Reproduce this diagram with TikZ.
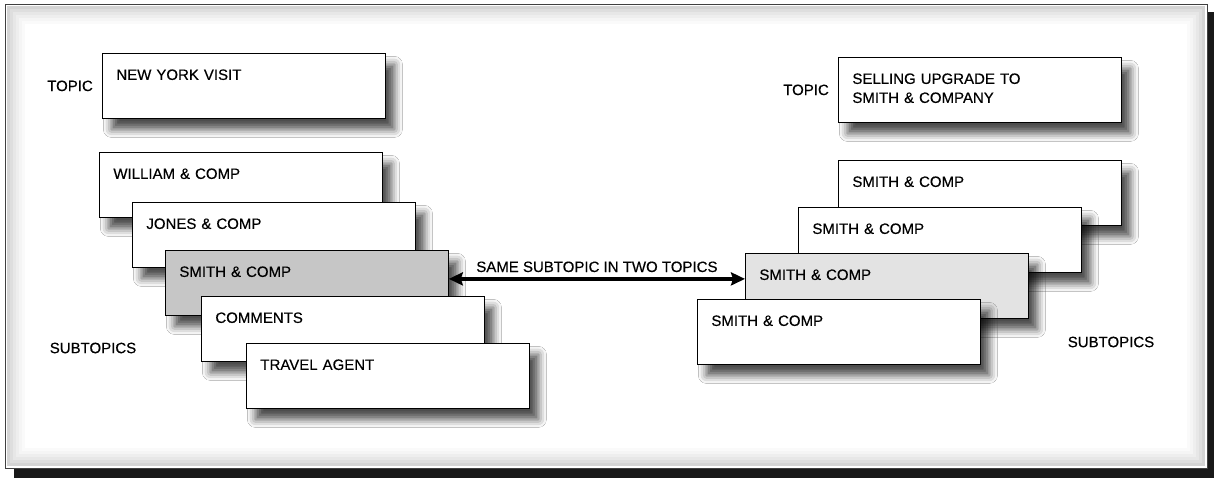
\documentclass[tikz,border=0pt]{standalone}
\usepackage{fontspec}
\setmainfont{Liberation Sans}
\newfontfamily\cardfont[FakeBold=0.4]{Liberation Sans}
\usetikzlibrary{positioning,arrows.meta,shadows.blur}

\tikzset{
  card/.style={draw, line width=0.8pt, fill=white, anchor=north west, text width=255pt, align=left,
    inner xsep=14pt, inner ysep=0pt, text height=26.5pt, text depth=38.5pt,
    blur shadow={shadow xshift=9pt, shadow yshift=-11pt, shadow blur radius=8pt, shadow opacity=70}},
  tag/.style={inner sep=0pt}
}

\begin{document}
\begin{tikzpicture}[x=1pt,y=-1pt,font=\cardfont\fontsize{15}{19}\selectfont]
    \useasboundingbox (0,0) rectangle (1214,478);
    % frame
    \fill[black!90] (14,12) rectangle (1214,478);
    \filldraw[fill=white,draw=black!75] (5,4) rectangle (1207,468);
    \foreach \d/\g in {2/34,5/26,8/19,11/13,14/8,17/4}
      \draw[gray!\g,line width=3pt] (5+\d+1.5,4+\d+1.5) rectangle (1207-\d-1.5,468-\d-1.5);
    % left topic
    \node[card] (nyvisit) at (102,53) {NEW YORK VISIT};
    \node[tag,left=9pt of nyvisit] (topicL) {TOPIC};
    \node[card] (william) at (99,152) {WILLIAM \& COMP};
    \node[card] (jones) at (132,202) {JONES \& COMP};
    \node[card,fill=gray!45] (smithL) at (165,250) {SMITH \& COMP};
    \node[card] (comments) at (201,296) {COMMENTS};
    \node[card] (travel) at (246,343) {TRAVEL AGENT};
    \node[tag] (subL) at (93,348) {SUBTOPICS};
    % right topic
    \node[card] (upgrade) at (838,57) {SELLING UPGRADE TO\\SMITH \& COMPANY};
    \node[tag,left=9pt of upgrade] (topicR) {TOPIC};
    \node[card] (smithA) at (838,160) {SMITH \& COMP};
    \node[card] (smithB) at (798,207) {SMITH \& COMP};
    \node[card,fill=gray!22] (smithR) at (745,253) {SMITH \& COMP};
    \node[card] (smithD) at (697,299) {SMITH \& COMP};
    \node[tag] (subR) at (1111,342) {SUBTOPICS};
    % link
    \draw[{Stealth[length=14pt,width=13pt,inset=2pt]}-{Stealth[length=14pt,width=13pt,inset=2pt]},line width=3.5pt]
      ([yshift=4pt]smithL.east) -- ([yshift=4pt]smithL.east -| smithR.west)
      node[midway,above=5pt,tag] (same) {SAME SUBTOPIC IN TWO TOPICS};
  \end{tikzpicture}
\end{document}
